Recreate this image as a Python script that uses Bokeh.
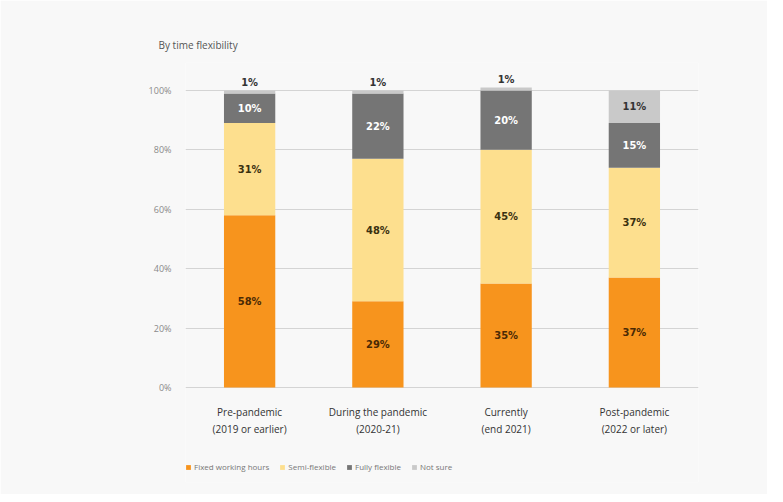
from bokeh.plotting import figure
from bokeh.models import ColumnDataSource, FactorRange, FixedTicker, Legend
from bokeh.core.properties import value
from bokeh.embed import file_html
from bokeh.resources import INLINE

category_labels = ["Pre-pandemic\n(2019 or earlier)", "During the pandemic\n(2020-21)",
                   "Currently\n(end 2021)", "Post-pandemic\n(2022 or later)"]
series = ["Fixed working hours", "Semi-flexible", "Fully flexible", "Not sure"]
fixed = [58, 29, 35, 37]
semi = [31, 48, 45, 37]
fully = [10, 22, 20, 15]
not_sure = [1, 1, 1, 11]
y_ticks = [0, 20, 40, 60, 80, 100]

colors = ["#F7941D", "#FDDF8E", "#757575", "#C9C9C9"]
text_colors = ["#4A2A05", "#3A3010", "#FFFFFF", "#333333"]

data = {"cat": category_labels,
        "Fixed working hours": [v / 100 for v in fixed],
        "Semi-flexible": [v / 100 for v in semi],
        "Fully flexible": [v / 100 for v in fully],
        "Not sure": [v / 100 for v in not_sure]}
src = ColumnDataSource(data)

p = figure(x_range=FactorRange(factors=category_labels, range_padding=0), y_range=(-0.32, 1.094),
           width=767, height=494, output_backend="svg", toolbar_location=None,
           min_border_left=185, min_border_right=69, min_border_top=62, min_border_bottom=12,
           title="By time flexibility")
p.background_fill_color = "#F8F8F8"
p.border_fill_color = "#F8F8F8"
p.outline_line_color = None

p.title.align = "left"
p.title.offset = -27
p.title.standoff = 21
p.title.text_font = "Open Sans"
p.title.text_font_size = "10px"
p.title.text_font_style = "normal"
p.title.text_color = "#555555"

renderers = p.vbar_stack(series, x="cat", width=0.4, color=colors, source=src, line_color=None)

# value labels
lx, ly, lt, lc = [], [], [], []
for i, c in enumerate(category_labels):
    base = 0.0
    for j, arr in enumerate([fixed, semi, fully, not_sure]):
        v = arr[i] / 100
        lx.append(c)
        if v < 0.05:
            ly.append(base + v + 0.028)
            lc.append("#333333")
        else:
            ly.append(base + v / 2)
            lc.append(text_colors[j])
        lt.append(f"{arr[i]}%")
        base += v
lsrc = ColumnDataSource(dict(x=lx, y=ly, t=lt, c=lc))
p.text(x="x", y="y", text="t", text_color="c", source=lsrc, text_align="center",
       text_baseline="middle", text_font=value("DejaVu Sans Condensed"), text_font_style="bold",
       text_font_size="11px")

# axes
p.yaxis.ticker = FixedTicker(ticks=[t / 100 for t in y_ticks])
p.yaxis.major_label_overrides = {t / 100: f"{t}%" for t in y_ticks}
p.yaxis.axis_line_color = None
p.yaxis.major_tick_line_color = None
p.yaxis.minor_tick_line_color = None
p.yaxis.major_label_standoff = 8
p.yaxis.major_label_text_font = "Open Sans"
p.yaxis.major_label_text_font_size = "9px"
p.yaxis.major_label_text_color = "#8A8A8A"

p.xaxis.fixed_location = 0
p.xaxis.axis_line_color = None
p.xaxis.major_tick_line_color = None
p.xaxis.major_label_standoff = 12
p.xaxis.major_label_text_font = "Open Sans"
p.xaxis.major_label_text_font_size = "10px"
p.xaxis.major_label_text_color = "#333333"

p.xgrid.grid_line_color = None
p.ygrid.ticker = FixedTicker(ticks=[t / 100 for t in y_ticks])
p.ygrid.grid_line_color = "#D4D4D4"
p.ygrid.level = "underlay"

# legend
legend = Legend(items=[(s, [r]) for s, r in zip(series, renderers)],
                orientation="horizontal", location=(0, 10),
                glyph_width=6, glyph_height=6, label_standoff=3, spacing=10,
                padding=0, margin=0, label_text_font_size="8px",
                label_text_font="Open Sans", label_text_color="#777777",
                background_fill_alpha=0, border_line_color=None)
p.add_layout(legend)

open("out.html", "w").write(file_html(p, INLINE))
